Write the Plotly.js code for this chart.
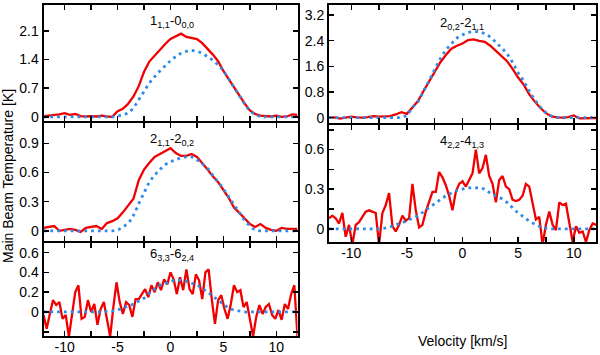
<!DOCTYPE html>
<html>
<head>
<meta charset="utf-8">
<script src="https://cdn.plot.ly/plotly-3.0.1.min.js"></script>
<style>
  html, body { margin: 0; padding: 0; background: #fff; }
  #chart { width: 600px; height: 355px; }
</style>
</head>
<body>
<div id="chart"></div>
<script>
// velocity channels (km/s): smooth spectra every 0.5, noisy ones every 0.3
function channels(step, n) {
  return Array.from({ length: n }, (_, i) => +(-12 + i * step).toFixed(2));
}
const velCoarse = channels(0.5, 49);
const velFine = channels(0.3, 81);

// 1(1,1)-0(0,0)
const p1Obs = [0.02,0.03,0.04,0.06,0.09,0.05,0.07,0.02,0.01,0.02,
  0.01,0.03,0.01,0.0,0.14,0.2,0.32,0.5,0.75,1.1,
  1.35,1.5,1.65,1.78,1.9,1.97,2.03,1.95,1.92,1.9,
  1.8,1.67,1.52,1.36,1.12,0.92,0.72,0.53,0.33,0.16,
  0.07,0.03,0.02,0.01,0.03,0.0,0.01,0.06,0.05];
const p1Mod = [0,0,0,0,0,0,0,0,0,0,0,0,0,0,
  0.02,0.05,0.1,0.22,0.42,0.62,0.82,0.98,1.12,1.25,
  1.37,1.47,1.55,1.6,1.62,1.6,1.55,1.47,1.38,1.27,
  1.12,0.93,0.72,0.52,0.32,0.15,0.06,0.01,
  0,0,0,0,0,0,0];

// 2(1,1)-2(0,2)
const p2Obs = [0.03,0.04,0.05,0.0,0.01,0.02,0.01,-0.01,0.03,0.04,
  0.05,0.02,0.08,0.1,0.13,0.19,0.26,0.33,0.52,0.63,
  0.7,0.76,0.79,0.82,0.85,0.8,0.77,0.77,0.79,0.76,
  0.7,0.63,0.56,0.5,0.42,0.34,0.24,0.19,0.13,0.07,
  0.04,0.07,0.03,0.01,0.0,0.03,0.02,0.02,0.02];
const p2Mod = [0,0,0,0,0,0,0,0,0,0,0,0,0,0,
  0.01,0.04,0.08,0.16,0.28,0.39,0.5,0.57,0.63,0.68,
  0.71,0.73,0.75,0.76,0.76,0.73,0.69,0.64,0.57,0.5,
  0.43,0.35,0.27,0.19,0.11,0.05,0.01,
  0,0,0,0,0,0,0,0];

// 6(3,3)-6(2,4)
const p3Obs = [-0.03,-0.17,-0.02,0.12,0.07,0.1,-0.07,-0.03,-0.25,-0.03,
  0.2,0.27,-0.07,-0.05,0.12,0,0.08,-0.13,0.03,0.1,
  -0.1,-0.25,0.05,0.3,0.1,-0.02,0.1,0.07,-0.05,0.13,
  0.13,0.18,0.23,0.15,0.27,0.2,0.3,0.22,0.33,0.28,
  0.4,0.33,0.18,0.35,0.22,0.43,0.23,0.18,0.38,0.32,
  0.13,0.4,0.43,0.13,-0.12,0.12,0.17,0.03,-0.07,0.08,
  0.27,0.2,0.22,0.05,0.1,-0.07,-0.25,-0.05,0.07,-0.02,
  0.05,0.08,-0.03,-0.07,0.02,-0.08,0.08,0.03,0.18,0.27,
  -0.25];
const p3Mod = [0,0,0,0,0,0,0,0,0,0,0,0,
  0.005,0.01,0.02,0.04,0.06,0.08,0.11,0.14,0.19,0.23,
  0.27,0.29,0.31,0.32,0.32,0.31,0.29,0.27,0.24,0.2,
  0.16,0.12,0.08,0.04,0.02,0.01,
  0,0,0,0,0,0,0,0,0,0,0];

// 2(0,2)-2(1,1)
const p4Obs = [0.0,0.01,-0.03,0.01,0.03,0.01,0.0,0.02,0.05,0.03,
  0.04,0.05,0.1,0.17,0.12,0.32,0.52,0.83,1.13,1.43,
  1.72,1.95,2.15,2.24,2.31,2.42,2.44,2.39,2.36,2.24,
  2.09,1.93,1.76,1.52,1.25,1.03,0.73,0.5,0.3,0.14,
  0.04,0.01,0.0,0.02,0.07,-0.02,-0.02,0.0,-0.01];
const p4Mod = [0,0,0,0,0,0,0,0,0,0,0,0,0,
  0.01,0.08,0.32,0.5,0.83,1.15,1.5,1.84,2.1,2.3,
  2.48,2.58,2.65,2.68,2.67,2.62,2.51,2.35,2.18,1.99,
  1.72,1.4,1.14,0.83,0.56,0.33,0.16,0.05,0.01,
  0,0,0,0,0,0,0];

// 4(2,2)-4(1,3)
const p5Obs = [0.08,0.1,0.08,0.04,0.12,-0.06,0.03,-0.12,0.03,0.05,
  0.09,0.13,0.14,0.13,0.12,-0.12,0.12,0.18,0.27,0.02,
  -0.02,0.03,0.1,0.06,0.08,0.34,0.14,0.01,0.03,0.13,
  0.2,0.28,0.28,0.43,0.39,0.33,0.25,0.14,0.28,0.34,
  0.36,0.32,0.37,0.42,0.6,0.42,0.46,0.56,0.4,0.34,
  0.2,0.37,0.4,0.32,0.3,0.22,0.21,0.22,0.25,0.34,
  0.32,0.18,0.07,0.09,-0.12,0.03,0.13,0.03,-0.01,0.2,
  0.18,0.19,0.05,-0.1,0.02,-0.03,-0.02,-0.1,-0.01,0.04,
  0.03];
const p5Mod = [0,0,0,0,0,0,0,0,0,0,
  0.005,0.015,0.03,0.045,0.06,0.08,0.1,0.13,0.16,0.19,
  0.22,0.25,0.27,0.29,0.3,0.31,0.31,0.31,0.3,0.27,
  0.25,0.23,0.2,0.16,0.12,0.09,0.06,0.035,0.015,0.005,
  0,0,0,0,0,0,0,0,0];

const lineLabels = [
  "1<sub>1,1</sub>-0<sub>0,0</sub>",
  "2<sub>1,1</sub>-2<sub>0,2</sub>",
  "6<sub>3,3</sub>-6<sub>2,4</sub>",
  "2<sub>0,2</sub>-2<sub>1,1</sub>",
  "4<sub>2,2</sub>-4<sub>1,3</sub>",
];
const xTicks = [-10, -7.5, -5, -2.5, 0, 2.5, 5, 7.5, 10];
const xTickText = ["-10", "", "-5", "", "0", "", "5", "", "10"];

// pixel helpers for a 600x355 page with zero margins
const W = 600, H = 355;
const px = (x) => x / W;
const py = (y) => 1 - y / H;

const RED = "#f00000";
const BLUE = "#2f8ce6";
const FONT = "'Liberation Sans', Arial, Helvetica, sans-serif";

// stacked panels share one frame line, so the domains overlap by the line width
const panels = [
  { obs: p1Obs, vObs: velCoarse, mod: p1Mod, x: [43.5, 297.5], y: [5, 121], yr: [-0.1, 2.73],
    yt: [0, 0.7, 1.4, 2.1], ytt: ["0", "0.7", "1.4", "2.1"], xl: false, lab: [172, 21] },
  { obs: p2Obs, vObs: velCoarse, mod: p2Mod, x: [43.5, 297.5], y: [123, 241], yr: [-0.104, 1.108],
    yt: [0, 0.3, 0.6, 0.9], ytt: ["0", "0.3", "0.6", "0.9"], xl: false, lab: [172, 140] },
  { obs: p3Obs, vObs: velFine, mod: p3Mod, x: [43.5, 297.5], y: [243, 336], yr: [-0.243, 0.697],
    yt: [-0.2, 0, 0.2, 0.4, 0.6], ytt: ["", "0", "0.2", "0.4", "0.6"], xl: true, lab: [172, 254] },
  { obs: p4Obs, vObs: velCoarse, mod: p4Mod, x: [329, 596], y: [5, 122.5], yr: [-0.15, 3.51],
    yt: [0, 0.8, 1.6, 2.4, 3.2], ytt: ["0", "0.8", "1.6", "2.4", "3.2"], xl: false, lab: [462, 23] },
  { obs: p5Obs, vObs: velFine, mod: p5Mod, x: [329, 596], y: [124.5, 242], yr: [-0.1, 0.79],
    yt: [0, 0.15, 0.3, 0.45, 0.6, 0.75], ytt: ["0", "", "0.3", "", "0.6", ""], xl: true, lab: [462, 141] },
];

const traces = [];
const layout = {
  width: W,
  height: H,
  margin: { l: 0, r: 0, t: 0, b: 0 },
  paper_bgcolor: "#fff",
  plot_bgcolor: "#fff",
  showlegend: false,
  font: { family: FONT, size: 14, color: "#000" },
  annotations: [],
};

panels.forEach((p, i) => {
  const n = i === 0 ? "" : String(i + 1);
  traces.push({
    x: p.vObs, y: p.obs, xaxis: "x" + n, yaxis: "y" + n,
    type: "scatter", mode: "lines", line: { color: RED, width: 2.3 },
    hoverinfo: "skip",
  });
  traces.push({
    x: velCoarse, y: p.mod, xaxis: "x" + n, yaxis: "y" + n,
    type: "scatter", mode: "lines", line: { color: BLUE, width: 2.8, dash: "2.8px,4px", shape: "spline" },
    hoverinfo: "skip",
  });
  const common = {
    ticks: "inside", ticklen: 5, tickwidth: 1.5, tickcolor: "#000",
    showline: true, linewidth: 2, linecolor: "#000", mirror: "ticks",
    showgrid: false, zeroline: false, tickfont: { family: FONT, size: 14, color: "#000" },
    fixedrange: true,
  };
  layout["xaxis" + n] = Object.assign({}, common, {
    domain: [px(p.x[0]), px(p.x[1])], anchor: "y" + n, range: [-12, 12],
    tickmode: "array", tickvals: xTicks,
    ticktext: p.xl ? xTickText : xTicks.map(() => ""),
    ticklabelstandoff: -3,
  });
  layout["yaxis" + n] = Object.assign({}, common, {
    domain: [py(p.y[1]), py(p.y[0])], anchor: "x" + n, range: p.yr,
    tickmode: "array", tickvals: p.yt, ticktext: p.ytt,
  });
  layout.annotations.push({
    text: lineLabels[i], xref: "paper", yref: "paper",
    x: px(p.lab[0]), y: py(p.lab[1]), xanchor: "center", yanchor: "middle",
    showarrow: false, font: { family: FONT, size: 13, color: "#000" },
  });
});

layout.annotations.push({
  text: "Main Beam Temperature [K]", xref: "paper", yref: "paper",
  x: px(8), y: py(176), textangle: -90, showarrow: false,
  xanchor: "center", yanchor: "middle", font: { family: FONT, size: 14, color: "#000" },
});
layout.annotations.push({
  text: "Velocity [km/s]", xref: "paper", yref: "paper",
  x: px(462), y: py(341), showarrow: false,
  xanchor: "center", yanchor: "middle", font: { family: FONT, size: 14, color: "#000" },
});

Plotly.newPlot("chart", traces, layout, { staticPlot: true, displayModeBar: false });
</script>
</body>
</html>
